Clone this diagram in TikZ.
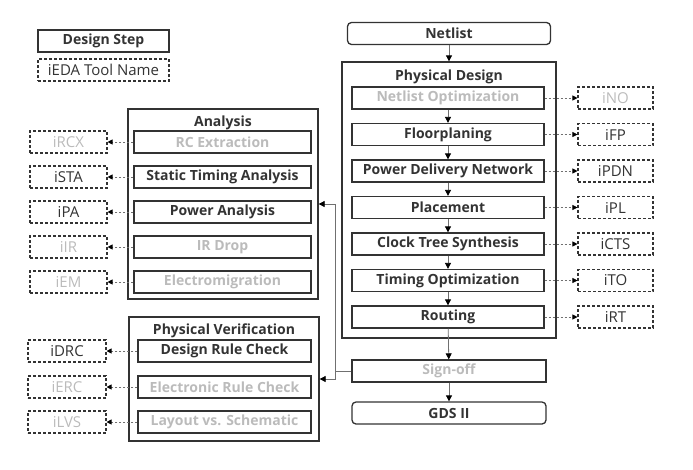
\documentclass[tikz,border=0pt]{standalone}
\usepackage{fontspec}
\setmainfont{Open Sans}
\usetikzlibrary{arrows.meta}
\definecolor{dk}{HTML}{333333}
\definecolor{lt}{HTML}{BBBBBB}
\definecolor{ln}{HTML}{707070}
\begin{document}
\begin{tikzpicture}[x=1pt,y=-1pt,
  stepbox/.style={draw=dk, line width=1.3pt, minimum height=22pt, inner sep=0pt, text=dk,
    font=\fontsize{14}{16}\selectfont\bfseries},
  rnd/.style={rounded corners=4pt},
  toolbox/.style={draw=dk, line width=1.1pt, dash pattern=on 3pt off 2pt, minimum height=22pt,
    inner sep=0pt, text=dk, font=\fontsize{15}{17}\selectfont},
  group/.style={draw=dk, line width=1.3pt, inner sep=0pt},
  title/.style={text=dk, font=\fontsize{14}{16}\selectfont\bfseries, inner sep=0pt},
  flow/.style={draw=ln, line width=0.8pt, -{Triangle[length=6pt,width=6pt,color=black]}},
  tool/.style={draw=ln, line width=0.8pt, dash pattern=on 2pt off 2pt, -{Triangle[length=5pt,width=5pt,color=black]}},
  link/.style={draw=ln, line width=0.8pt},
]
\useasboundingbox (0,0) rectangle (693,469);

% legend
\node[stepbox, minimum width=131pt] (lstep) at (103.5,41) {Design Step};
\node[toolbox, minimum width=131pt] (ltool) at (103.5,70) {iEDA Tool Name};

% physical design
\node[stepbox, rnd, minimum width=203pt] (netlist) at (449,33.5) {Netlist};
\node[group, minimum width=214pt, minimum height=276pt] (pd) at (449,200) {};
\node[title] (pdt) at (449,77) {Physical Design};
\foreach \n/\y/\t/\g/\tn/\tt in {
  no/98/Netlist Optimization/lt/tno/iNO,
  fp/134.5/Floorplaning/dk/tfp/iFP,
  pdn/171/Power Delivery Network/dk/tpdn/iPDN,
  pl/207.5/Placement/dk/tpl/iPL,
  cts/244/Clock Tree Synthesis/dk/tcts/iCTS,
  to/280.5/Timing Optimization/dk/tto/iTO,
  rt/317/Routing/dk/trt/iRT}{
  \node[stepbox, minimum width=192pt, text=\g] (\n) at (448,\y) {\t};
  \node[toolbox, minimum width=75pt, text=\g] (\tn) at (615.5,\y) {\tt};
  \draw[tool] (\n.east) -- (\tn.west);
}
\draw[flow] (netlist) -- (pd.north);
\draw[flow] (no) -- (fp);
\draw[flow] (fp) -- (pdn);
\draw[flow] (pdn) -- (pl);
\draw[flow] (pl) -- (cts);
\draw[flow] (cts) -- (to);
\draw[flow] (to) -- (rt);

\node[stepbox, minimum width=194pt, text=lt] (so) at (449,371) {Sign-off};
\node[stepbox, rnd, minimum width=194pt] (gds) at (449,413) {GDS II};
\draw[flow] (rt) -- (so);
\draw[flow] (so) -- (gds);

% analysis
\node[group, minimum width=190pt, minimum height=190pt] (an) at (223,204) {};
\node[title] (ant) at (223,123) {Analysis};
\foreach \n/\y/\t/\g/\tn/\tt in {
  rc/142/RC Extraction/lt/trc/iRCX,
  sta/177/Static Timing Analysis/dk/tsta/iSTA,
  pa/212/Power Analysis/dk/tpa/iPA,
  ir/247/IR Drop/lt/tir/iIR,
  em/282/Electromigration/lt/tem/iEM}{
  \node[stepbox, minimum width=177pt, text=\g] (\n) at (222.5,\y) {\t};
  \node[toolbox, minimum width=77pt, text=\g] (\tn) at (68.5,\y) {\tt};
  \draw[tool] (\n.west) -- (\tn.east);
}

% physical verification
\node[group, minimum width=190pt, minimum height=124pt] (pv) at (224,379) {};
\node[title] (pvt) at (224,331) {Physical Verification};
\foreach \n/\y/\t/\g/\tn/\tt in {
  drc/351/Design Rule Check/dk/tdrc/iDRC,
  erc/387/Electronic Rule Check/lt/terc/iERC,
  lvs/422/Layout vs. Schematic/lt/tlvs/iLVS}{
  \node[stepbox, minimum width=173pt, text=\g] (\n) at (224.5,\y) {\t};
  \node[toolbox, minimum width=78pt, text=\g] (\tn) at (67,\y) {\tt};
  \draw[tool] (\n.west) -- (\tn.east);
}

% sign-off feedback
\coordinate (j) at (335,371);
\draw[link] (so.west) -- (j);
\draw[flow] (j) |- (an.east |- 0,204);
\draw[flow] (j) |- (pv.east |- 0,379);
\end{tikzpicture}
\end{document}
